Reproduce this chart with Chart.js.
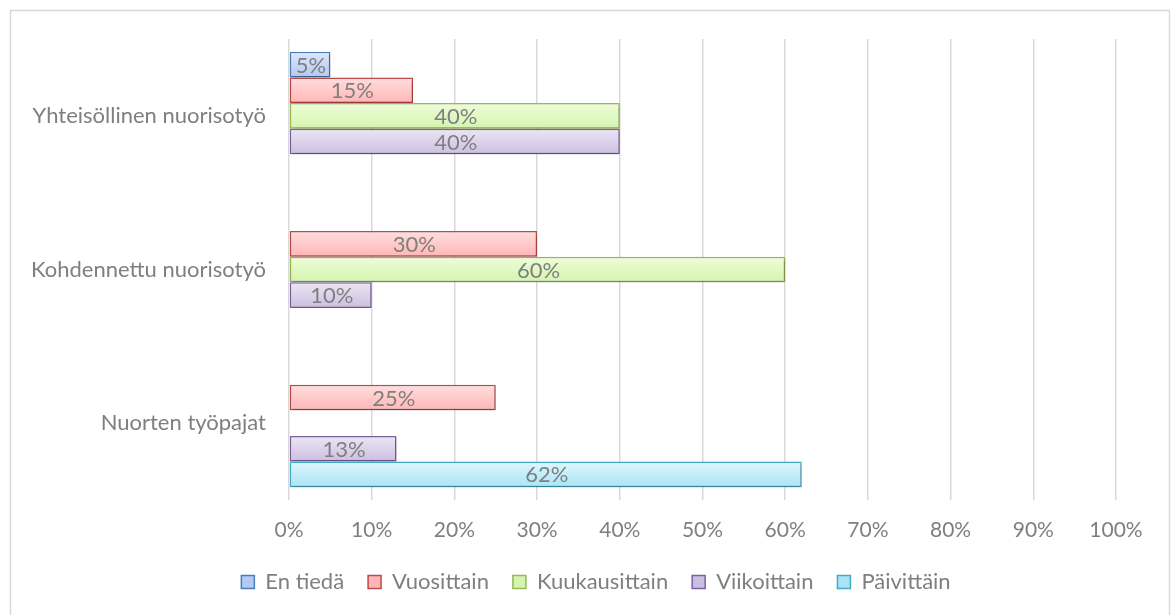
<!DOCTYPE html>
<html>
<head>
<meta charset="utf-8">
<script src="https://cdn.jsdelivr.net/npm/chart.js@4/dist/chart.umd.min.js"></script>
<style>
  html, body { margin: 0; padding: 0; background: #ffffff; }
  #wrap { position: relative; width: 1176px; height: 615px; }
</style>
</head>
<body>
<div id="wrap"><canvas id="c" width="1176" height="615"></canvas></div>
<script>
// ---- data ----
const categories = ['Yhteisöllinen nuorisotyö', 'Kohdennettu nuorisotyö', 'Nuorten työpajat'];
const seriesNames = ['En tiedä', 'Vuosittain', 'Kuukausittain', 'Viikoittain', 'Päivittäin'];
const enTieda       = [5, null, null];
const vuosittain    = [15, 30, 25];
const kuukausittain = [40, 60, null];
const viikoittain   = [40, 10, 13];
const paivittain    = [null, null, 62];
const xTickValues   = [0, 10, 20, 30, 40, 50, 60, 70, 80, 90, 100];

// ---- styles ----
const borderColors = ['#4a7ebb', '#be4b48', '#98b954', '#7d60a0', '#46aac5'];
const gradTop      = ['#dde7fb', '#ffdede', '#eefdd9', '#ece6f4', '#def7fd'];
const gradBottom   = ['#b3c9f1', '#ffb6b6', '#d5f4b0', '#cbbfe1', '#a9e4f6'];
const fallbackFill = ['#c9d9f6', '#ffcaca', '#e2f9c6', '#ddd4ea', '#c6eefa'];

const FONT = 'Lato, "Open Sans", sans-serif';
const TEXT = '#7f7f7f';

function gradFill(i) {
  return function (ctx) {
    const el = ctx.element;
    if (ctx.type !== 'data' || !el || !isFinite(el.y) || !isFinite(el.height)) return fallbackFill[i];
    const c = ctx.chart.ctx;
    const g = c.createLinearGradient(0, el.y - el.height / 2, 0, el.y + el.height / 2);
    g.addColorStop(0, gradTop[i]);
    g.addColorStop(1, gradBottom[i]);
    return g;
  };
}

const seriesData = [enTieda, vuosittain, kuukausittain, viikoittain, paivittain];
const datasets = seriesData.map((d, i) => ({
  label: seriesNames[i],
  data: d,
  backgroundColor: gradFill(i),
  borderColor: borderColors[i],
  borderWidth: 1.5,
  borderSkipped: false,
  categoryPercentage: 0.833,
  barPercentage: 1.0
}));

const framePlugin = {
  id: 'frame',
  beforeDraw(chart) {
    const c = chart.ctx;
    c.save();
    c.strokeStyle = '#d9d9d9';
    c.lineWidth = 1.5;
    c.strokeRect(10.5, 10.5, 1159, 640);
    c.restore();
  }
};

const legendShiftPlugin = {
  id: 'legendShift',
  afterLayout(chart) {
    if (chart.legend) {
      chart.legend.left += 33;
      chart.legend.right += 33;
    }
  }
};

const shadowPlugin = {
  id: 'shadow',
  beforeDatasetDraw(chart) {
    const c = chart.ctx;
    c.save();
    c.shadowColor = 'rgba(0,0,0,0.28)';
    c.shadowBlur = 3;
    c.shadowOffsetX = 1;
    c.shadowOffsetY = 2;
  },
  afterDatasetDraw(chart) {
    chart.ctx.restore();
  }
};

const labelPlugin = {
  id: 'barLabels',
  afterDatasetsDraw(chart) {
    const c = chart.ctx;
    c.save();
    c.font = '22px ' + FONT;
    c.fillStyle = TEXT;
    c.textAlign = 'center';
    c.textBaseline = 'middle';
    chart.data.datasets.forEach((ds, i) => {
      const meta = chart.getDatasetMeta(i);
      meta.data.forEach((el, j) => {
        const v = ds.data[j];
        if (v == null) return;
        c.fillText(v + '%', (el.x + el.base) / 2 + 1, el.y + 1);
      });
    });
    c.restore();
  }
};

const chart = new Chart(document.getElementById('c'), {
  type: 'bar',
  data: { labels: categories, datasets: datasets },
  options: {
    indexAxis: 'y',
    responsive: false,
    animation: false,
    layout: { padding: { left: 10, right: 60, top: 39, bottom: 12 } },
    scales: {
      x: {
        min: 0,
        max: 100,
        afterBuildTicks(scale) { scale.ticks = xTickValues.map(v => ({ value: v })); },
        grid: { color: '#d9d9d9', lineWidth: 1.5, drawTicks: false },
        border: { display: false },
        ticks: {
          color: TEXT,
          font: { family: FONT, size: 21 },
          padding: 18,
          callback: v => v + '%'
        },
        afterFit(scale) { scale.height = 47; }
      },
      y: {
        grid: { display: false, drawTicks: false },
        border: { display: false },
        ticks: {
          color: TEXT,
          font: { family: FONT, size: 22 },
          padding: 23
        },
        afterFit(scale) { scale.width = 279; }
      }
    },
    plugins: {
      legend: {
        position: 'bottom',
        labels: {
          color: TEXT,
          font: { family: FONT, size: 22 },
          boxWidth: 13,
          boxHeight: 13,
          padding: 24
        }
      },
      tooltip: { enabled: false }
    }
  },
  plugins: [framePlugin, legendShiftPlugin, shadowPlugin, labelPlugin]
});
chart.update();
</script>
</body>
</html>
